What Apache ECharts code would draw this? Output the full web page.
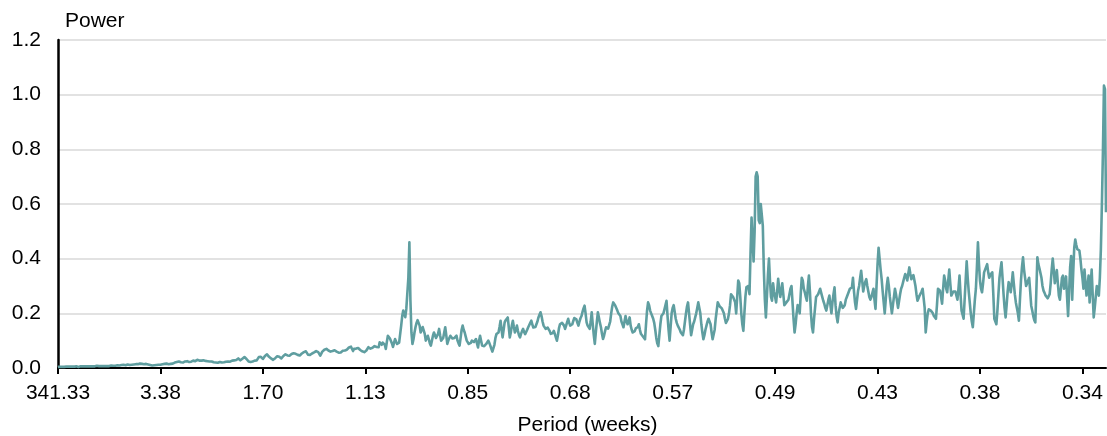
<!DOCTYPE html>
<html>
<head>
<meta charset="utf-8">
<script src="https://cdn.jsdelivr.net/npm/echarts@6/dist/echarts.min.js"></script>
<style>
html,body{margin:0;padding:0;background:#fff;}
#chart{width:1107px;height:436px;}
</style>
</head>
<body>
<div id="chart"></div>
<script>
// Tick labels of the period axis (weeks), one every 100 frequency bins
var tickLabels = ["341.33","3.38","1.70","1.13","0.85","0.68","0.57","0.49","0.43","0.38","0.34"];
var yTickLabels = ["0.0","0.2","0.4","0.6","0.8","1.0","1.2"];

// Power values per frequency bin
var power = [
0.004,0.005,0.004,0.003,0.004,0.005,0.004,0.004,0.005,0.004,
0.005,0.004,0.005,0.006,0.005,0.004,0.005,0.005,0.006,0.005,
0.004,0.005,0.006,0.005,0.006,0.005,0.006,0.007,0.006,0.005,
0.006,0.007,0.006,0.005,0.006,0.007,0.006,0.007,0.008,0.006,
0.007,0.006,0.007,0.008,0.007,0.006,0.007,0.008,0.007,0.008,
0.007,0.008,0.009,0.007,0.008,0.009,0.008,0.009,0.01,0.008,
0.009,0.01,0.011,0.01,0.012,0.011,0.01,0.012,0.013,0.012,
0.011,0.013,0.012,0.014,0.013,0.012,0.014,0.015,0.014,0.015,
0.016,0.014,0.015,0.013,0.014,0.016,0.015,0.014,0.013,0.012,
0.011,0.01,0.009,0.011,0.01,0.012,0.011,0.01,0.012,0.013,
0.012,0.013,0.014,0.013,0.015,0.014,0.016,0.015,0.014,0.016,
0.015,0.017,0.016,0.018,0.02,0.019,0.022,0.021,0.024,0.022,
0.021,0.023,0.02,0.022,0.024,0.026,0.025,0.023,0.022,0.024,
0.023,0.025,0.027,0.026,0.025,0.028,0.03,0.029,0.027,0.028,
0.027,0.026,0.028,0.025,0.026,0.024,0.025,0.023,0.024,0.022,
0.024,0.023,0.021,0.022,0.02,0.021,0.019,0.02,0.022,0.021,
0.02,0.018,0.021,0.02,0.023,0.025,0.024,0.026,0.023,0.025,
0.027,0.025,0.028,0.03,0.029,0.033,0.035,0.031,0.028,0.03,
0.034,0.037,0.04,0.038,0.033,0.028,0.024,0.02,0.022,0.025,
0.024,0.026,0.027,0.03,0.028,0.034,0.04,0.045,0.041,0.037,
0.033,0.038,0.044,0.047,0.05,0.046,0.041,0.037,0.035,0.032,
0.03,0.033,0.036,0.04,0.043,0.045,0.041,0.038,0.035,0.04,
0.044,0.047,0.05,0.049,0.046,0.044,0.045,0.048,0.051,0.053,
0.054,0.055,0.052,0.05,0.048,0.047,0.046,0.049,0.053,0.056,
0.058,0.06,0.061,0.055,0.049,0.045,0.048,0.05,0.053,0.055,
0.057,0.06,0.062,0.063,0.058,0.051,0.045,0.052,0.06,0.065,
0.067,0.069,0.07,0.068,0.064,0.062,0.06,0.06,0.062,0.065,
0.065,0.063,0.06,0.058,0.056,0.055,0.057,0.06,0.063,0.062,
0.064,0.066,0.067,0.07,0.075,0.08,0.078,0.08,0.062,0.07,
0.075,0.071,0.069,0.073,0.07,0.066,0.063,0.061,0.06,0.058,
0.057,0.064,0.07,0.076,0.074,0.071,0.07,0.074,0.078,0.08,
0.078,0.077,0.075,0.076,0.094,0.09,0.085,0.093,0.1,0.085,
0.07,0.095,0.118,0.112,0.108,0.106,0.09,0.077,0.092,0.106,
0.097,0.088,0.09,0.093,0.095,0.155,0.19,0.21,0.196,0.186,
0.216,0.21,0.33,0.46,0.25,0.13,0.088,0.105,0.13,0.15,
0.165,0.175,0.18,0.155,0.13,0.14,0.15,0.155,0.125,0.1,
0.11,0.118,0.105,0.09,0.082,0.1,0.118,0.13,0.12,0.11,
0.106,0.125,0.143,0.12,0.1,0.094,0.11,0.13,0.149,0.12,
0.088,0.1,0.11,0.118,0.112,0.108,0.106,0.11,0.115,0.118,
0.1,0.09,0.082,0.11,0.14,0.155,0.14,0.13,0.115,0.1,
0.094,0.088,0.082,0.092,0.1,0.106,0.095,0.1,0.106,0.09,
0.075,0.1,0.118,0.1,0.082,0.075,0.08,0.085,0.088,0.094,
0.1,0.092,0.082,0.07,0.06,0.057,0.085,0.11,0.124,0.128,
0.13,0.15,0.173,0.14,0.112,0.14,0.167,0.175,0.182,0.185,
0.15,0.112,0.13,0.155,0.173,0.15,0.13,0.14,0.155,0.135,
0.12,0.112,0.125,0.135,0.143,0.132,0.124,0.13,0.14,0.149,
0.155,0.165,0.173,0.16,0.148,0.143,0.15,0.16,0.17,0.185,
0.195,0.204,0.19,0.17,0.155,0.148,0.143,0.145,0.148,0.149,
0.135,0.125,0.118,0.128,0.136,0.125,0.112,0.1,0.12,0.145,
0.16,0.163,0.165,0.167,0.155,0.143,0.155,0.168,0.18,0.165,
0.155,0.149,0.16,0.172,0.183,0.19,0.178,0.165,0.155,0.17,
0.182,0.19,0.205,0.218,0.228,0.2,0.167,0.155,0.148,0.143,
0.17,0.204,0.16,0.12,0.088,0.13,0.17,0.204,0.185,0.165,
0.149,0.125,0.106,0.118,0.135,0.149,0.146,0.144,0.143,0.17,
0.2,0.225,0.24,0.235,0.228,0.222,0.21,0.2,0.195,0.19,
0.17,0.16,0.149,0.17,0.19,0.17,0.16,0.17,0.185,0.155,
0.14,0.13,0.125,0.135,0.145,0.14,0.15,0.16,0.14,0.125,
0.13,0.115,0.11,0.105,0.16,0.21,0.24,0.23,0.21,0.2,
0.19,0.18,0.165,0.14,0.11,0.09,0.08,0.12,0.16,0.19,
0.185,0.2,0.215,0.23,0.246,0.19,0.14,0.1,0.15,0.2,
0.22,0.23,0.205,0.18,0.165,0.155,0.15,0.14,0.13,0.125,
0.12,0.14,0.17,0.2,0.225,0.24,0.2,0.16,0.12,0.14,
0.16,0.17,0.185,0.2,0.22,0.24,0.246,0.2,0.16,0.13,
0.105,0.12,0.14,0.155,0.17,0.18,0.186,0.16,0.13,0.105,
0.1,0.14,0.18,0.21,0.24,0.235,0.225,0.22,0.218,0.216,
0.2,0.18,0.165,0.16,0.18,0.2,0.23,0.27,0.265,0.26,
0.25,0.24,0.2,0.26,0.32,0.31,0.26,0.2,0.16,0.136,
0.2,0.26,0.296,0.29,0.3,0.27,0.42,0.55,0.47,0.39,
0.5,0.7,0.716,0.7,0.54,0.53,0.6,0.56,0.52,0.36,
0.25,0.185,0.26,0.34,0.4,0.32,0.26,0.246,0.31,0.28,
0.26,0.24,0.28,0.326,0.29,0.26,0.28,0.31,0.27,0.23,
0.235,0.24,0.245,0.25,0.27,0.29,0.3,0.24,0.18,0.13,
0.16,0.2,0.23,0.22,0.2,0.27,0.33,0.32,0.29,0.277,
0.26,0.246,0.3,0.338,0.28,0.2,0.15,0.13,0.18,0.22,
0.26,0.265,0.27,0.28,0.29,0.275,0.26,0.246,0.235,0.22,
0.21,0.23,0.25,0.265,0.23,0.2,0.24,0.27,0.295,0.23,
0.19,0.167,0.2,0.22,0.24,0.23,0.22,0.216,0.23,0.25,
0.26,0.27,0.28,0.29,0.29,0.295,0.33,0.28,0.24,0.216,
0.25,0.283,0.3,0.33,0.356,0.32,0.28,0.3,0.315,0.325,
0.3,0.28,0.26,0.25,0.26,0.275,0.29,0.25,0.216,0.3,
0.38,0.44,0.4,0.36,0.325,0.28,0.24,0.2,0.25,0.3,
0.33,0.3,0.26,0.23,0.2,0.23,0.26,0.29,0.27,0.245,
0.22,0.245,0.27,0.29,0.3,0.315,0.33,0.344,0.335,0.32,
0.345,0.368,0.345,0.325,0.33,0.34,0.344,0.3,0.27,0.246,
0.255,0.265,0.27,0.28,0.29,0.295,0.22,0.13,0.17,0.2,
0.215,0.22,0.21,0.205,0.2,0.19,0.185,0.18,0.23,0.29,
0.285,0.283,0.26,0.235,0.29,0.338,0.32,0.29,0.277,0.32,
0.36,0.31,0.265,0.27,0.28,0.285,0.28,0.265,0.25,0.29,
0.338,0.27,0.21,0.195,0.18,0.25,0.32,0.39,0.33,0.28,
0.24,0.2,0.17,0.149,0.2,0.25,0.29,0.37,0.46,0.38,
0.32,0.29,0.277,0.31,0.35,0.36,0.37,0.38,0.35,0.33,
0.34,0.345,0.35,0.27,0.18,0.17,0.16,0.21,0.27,0.33,
0.36,0.387,0.33,0.27,0.22,0.185,0.23,0.28,0.314,0.3,
0.277,0.31,0.35,0.31,0.27,0.24,0.22,0.2,0.173,0.25,
0.32,0.37,0.405,0.36,0.33,0.3,0.31,0.32,0.33,0.28,
0.228,0.21,0.19,0.175,0.167,0.28,0.405,0.38,0.365,0.36,
0.33,0.3,0.283,0.275,0.265,0.26,0.255,0.25,0.27,0.31,
0.36,0.4,0.36,0.31,0.335,0.358,0.31,0.265,0.25,0.29,
0.33,0.338,0.29,0.31,0.335,0.26,0.19,0.28,0.37,0.41,
0.25,0.35,0.44,0.47,0.45,0.435,0.43,0.43,0.4,0.36,
0.33,0.29,0.36,0.31,0.265,0.3,0.338,0.24,0.3,0.36,
0.27,0.185,0.22,0.26,0.3,0.28,0.265,0.33,0.435,0.6,
0.79,1.033,1.02,0.57
];

var bins = power.map(function (_, i) { return String(i); });

var FONT = '"Liberation Sans", Arial, sans-serif';
var chart = echarts.init(document.getElementById('chart'), null, {renderer: 'canvas'});
chart.setOption({
  animation: false,
  backgroundColor: '#ffffff',
  grid: {left: 58, right: 1, top: 40, bottom: 68, containLabel: false, outerBoundsMode: 'none'},
  xAxis: {
    type: 'category',
    data: bins,
    boundaryGap: false,
    name: 'Period (weeks)',
    nameLocation: 'middle',
    nameGap: 47,
    nameMoveOverlap: false,
    nameTextStyle: {color: '#000', fontSize: 21, fontFamily: FONT, padding: [0, 0, 0, 11]},
    axisLine: {show: true, lineStyle: {color: '#000', width: 2}},
    axisTick: {show: true, interval: 99, length: 6, lineStyle: {color: '#000', width: 2}},
    axisLabel: {
      interval: 99, margin: 15, color: '#000', fontSize: 21, fontFamily: FONT,
      formatter: function (v, i) { return (i % 100 === 0 && tickLabels[i / 100]) ? tickLabels[i / 100] : ''; }
    },
    splitLine: {show: false}
  },
  yAxis: {
    type: 'value',
    min: 0, max: 1.2, interval: 0.2,
    name: 'Power',
    nameLocation: 'end',
    nameGap: 19,
    nameTextStyle: {color: '#000', fontSize: 21, fontFamily: FONT, align: 'left', verticalAlign: 'middle', padding: [0, 0, 0, 7]},
    axisLine: {show: true, lineStyle: {color: '#000', width: 2.5}},
    axisTick: {show: false},
    axisLabel: {
      margin: 17, color: '#000', fontSize: 21, fontFamily: FONT,
      formatter: function (v) { return yTickLabels[Math.round(v / 0.2)]; }
    },
    splitLine: {show: true, lineStyle: {color: '#d9d9d9', width: 1.5}}
  },
  series: [{
    type: 'line',
    data: power,
    showSymbol: false,
    symbol: 'none',
    lineStyle: {color: '#5f9ea0', width: 2.6, join: 'round'},
    itemStyle: {color: '#5f9ea0'}
  }]
});
</script>
</body>
</html>
